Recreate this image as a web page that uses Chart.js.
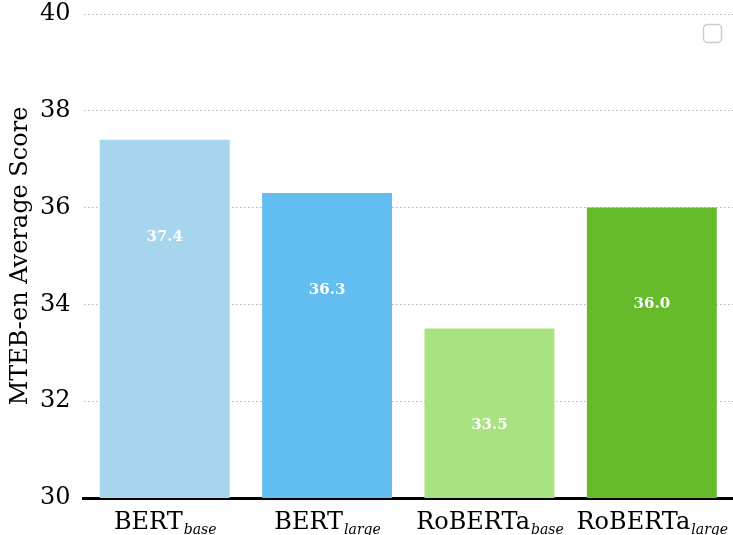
<!DOCTYPE html>
<html><head><meta charset="utf-8">
<script src="https://cdn.jsdelivr.net/npm/chart.js@4/dist/chart.umd.min.js"></script>
<style>html,body{margin:0;padding:0;background:#fff}#wrap{width:733px;height:535px}</style>
</head><body><div id="wrap"><canvas id="c" width="733" height="535"></canvas></div>
<script>
const categories = ["BERT", "BERT", "RoBERTa", "RoBERTa"];
const subscripts = ["base", "large", "base", "large"];
const scores = [37.4, 36.3, 33.5, 36.0];
const barColors = ["#a6d5ed", "#62bdf1", "#a9e381", "#66bb2b"];
const yTicks = [30, 32, 34, 36, 38, 40];
const labelOffset = 2; // value labels drawn 2 units below bar top

const SERIF = "'DejaVu Serif', serif";

const overlay = {
  id: 'overlay',
  afterDatasetsDraw(chart) {
    const ctx = chart.ctx, y = chart.scales.y;
    const meta = chart.getDatasetMeta(0);
    ctx.save();
    ctx.fillStyle = '#ffffff';
    ctx.font = "bold 15px " + SERIF;
    ctx.textAlign = 'center';
    ctx.textBaseline = 'middle';
    scores.forEach((v, i) => {
      ctx.fillText(v.toFixed(1), meta.data[i].x, y.getPixelForValue(v - labelOffset));
    });
    ctx.restore();
  },
  afterDraw(chart) {
    const ctx = chart.ctx, x = chart.scales.x;
    ctx.save();
    ctx.fillStyle = '#000';
    ctx.textBaseline = 'alphabetic';
    ctx.textAlign = 'left';
    categories.forEach((c, i) => {
      const cx = x.getPixelForTick(i);
      ctx.font = "24px " + SERIF;
      const w1 = ctx.measureText(c).width;
      ctx.font = "italic 14px " + SERIF;
      const w2 = ctx.measureText(subscripts[i]).width;
      const start = cx - (w1 + w2) / 2;
      ctx.font = "24px " + SERIF;
      ctx.fillText(c, start, 529);
      ctx.font = "italic 14px " + SERIF;
      ctx.fillText(subscripts[i], start + w1 + 1, 534);
    });
    // empty legend box
    ctx.strokeStyle = '#cccccc';
    ctx.lineWidth = 1.5;
    ctx.beginPath();
    ctx.roundRect(703.5, 24.5, 18, 18, 4);
    ctx.stroke();
    ctx.restore();
  }
};

new Chart(document.getElementById('c'), {
  type: 'bar',
  data: {
    labels: categories.map((c, i) => c + subscripts[i]),
    datasets: [{
      data: scores,
      backgroundColor: barColors,
      borderWidth: 0,
      barPercentage: 0.8,
      categoryPercentage: 1.0
    }]
  },
  options: {
    responsive: false,
    animation: false,
    devicePixelRatio: 1,
    layout: { padding: { top: 0, right: -1, left: 0, bottom: 0 } },
    plugins: { legend: { display: false }, tooltip: { enabled: false } },
    scales: {
      x: {
        grid: { display: false },
        border: { display: true, color: '#000', width: 3 },
        ticks: { display: false },
        afterFit(s) { s.height = 37; s.paddingLeft = 0; s.paddingRight = 0; }
      },
      y: {
        min: 30, max: 40,
        afterBuildTicks(s) { s.ticks = yTicks.map(v => ({ value: v })); },
        afterFit(s) { s.width = 83.5; s.paddingTop = 14; s.paddingBottom = 0; },
        grid: { color: (c) => c.tick && c.tick.value === 30 ? 'rgba(0,0,0,0)' : '#b5b5b5', lineWidth: 1, drawTicks: false },
        border: { display: false, dash: [1.5, 2.5] },
        ticks: { color: '#000', font: { size: 24, family: SERIF }, padding: 13 },
        title: { display: true, text: 'MTEB-en Average Score', color: '#000', font: { size: 24, family: SERIF }, padding: { top: 6, bottom: 4 } }
      }
    }
  },
  plugins: [overlay]
});
</script></body></html>
